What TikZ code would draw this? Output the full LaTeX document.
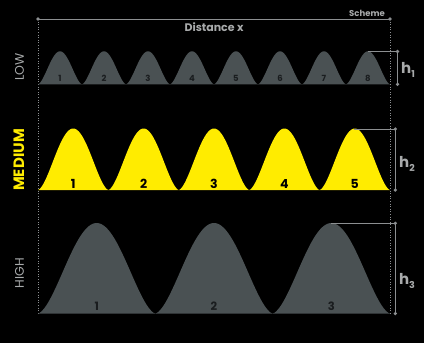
\documentclass[tikz,border=0pt]{standalone}
\usepackage{fontspec}
\setmainfont{Poppins}
\definecolor{bg}{HTML}{000000}
\definecolor{bumpgrey}{HTML}{4A5153}
\definecolor{linegrey}{HTML}{8C8F91}
\definecolor{textgrey}{HTML}{A8AAAB}
\definecolor{yel}{HTML}{FFEC00}
\definecolor{numdark}{HTML}{1A1D1F}
\tikzset{
  guide/.style={linegrey, line width=0.9pt},
  dotguide/.style={linegrey, line width=0.6pt, dotted},
  enddot/.style={circle, fill=linegrey, inner sep=0pt, minimum size=3.6pt},
  rowlabel/.style={rotate=90, font=\fontsize{12.5}{12.5}\selectfont, textgrey},
  hlabel/.style={font=\bfseries\fontsize{15}{15}\selectfont, textgrey},
  numlab/.style={font=\bfseries\fontsize{#1}{#1}\selectfont, inner sep=0pt},
}
\newcommand{\hsub}[1]{h\raisebox{-3.5pt}{\fontsize{9.5}{9.5}\selectfont #1}}
% bump: left x, width, baseline y, height
\newcommand{\bumpshape}[4]{plot[domain=0:1, samples=70, smooth] ({#1+#2*\x},{#3-#4*pow(max(sin(180*\x),0.0001),1.6)}) -- cycle}
\begin{document}
\begin{tikzpicture}[x=1pt,y=-1pt]
\fill[bg] (0,0) rectangle (424,343);
\useasboundingbox (0,0) rectangle (424,343);
% guides
\coordinate (TL) at (38,19);
\coordinate (TR) at (390,19);
\coordinate (BL) at (38,314);
\coordinate (BR) at (390,314);
\draw[dotguide] (TL) -- (BL);
\draw[dotguide] (TR) -- (BR);
\draw[guide] (TL) -- (TR);
\node[enddot] (dTL) at (TL) {};
\node[enddot] (dTR) at (TR) {};
\node[font=\bfseries\fontsize{11}{11}\selectfont, textgrey] (dist) at (214,27) {Distance x};
\node[font=\bfseries\fontsize{8.5}{8.5}\selectfont, textgrey] (scheme) at (367,13) {Scheme};
% LOW row
\foreach \i in {1,...,8}{
  \pgfmathsetmacro{\xl}{38+44*(\i-1)}
  \fill[bumpgrey] \bumpshape{\xl}{44}{84.3}{33};
  \node[numlab=8.5, numdark] (low\i) at ({\xl+22},78.5) {\i};
}
% MEDIUM row
\foreach \i in {1,...,5}{
  \pgfmathsetmacro{\xl}{38+70.4*(\i-1)}
  \fill[yel] \bumpshape{\xl}{70.4}{190}{61.5};
  \node[numlab=12.5, black] (med\i) at ({\xl+35.2},183.5) {\i};
}
% HIGH row
\foreach \i in {1,...,3}{
  \pgfmathsetmacro{\xl}{38+117.333*(\i-1)}
  \fill[bumpgrey] \bumpshape{\xl}{117.333}{313.5}{90.5};
  \node[numlab=11.5, numdark] (high\i) at ({\xl+58.667},306.5) {\i};
}
% row labels
\node[rowlabel] (lowlab) at (19.5,67) {LOW};
\node[rowlabel, yel, font=\bfseries\fontsize{15}{15}\selectfont] (medlab) at (19,160) {MEDIUM};
\node[rowlabel] (highlab) at (19.5,273) {HIGH};
% h markers
\coordinate (p1) at (367.7,51.5);
\coordinate (a1) at (397.5,51.5);
\coordinate (b1) at (397.5,84.3);
\draw[guide] (p1) -- (a1) -- (b1);
\node[enddot] at (a1) {};
\node[enddot] at (b1) {};
\node[hlabel] (h1) at (408,70) {\hsub{1}};
\coordinate (p2) at (354,129);
\coordinate (a2) at (395.3,129);
\coordinate (b2) at (395.3,190);
\draw[guide] (p2) -- (a2) -- (b2);
\node[enddot] at (a2) {};
\node[enddot] at (b2) {};
\node[hlabel] (h2) at (407,164) {\hsub{2}};
\coordinate (p3) at (331,223.3);
\coordinate (a3) at (395.3,223.3);
\coordinate (b3) at (395.3,313.5);
\draw[guide] (p3) -- (a3) -- (b3);
\node[enddot] at (a3) {};
\node[enddot] at (b3) {};
\node[hlabel] (h3) at (407,281) {\hsub{3}};
\end{tikzpicture}
\end{document}
